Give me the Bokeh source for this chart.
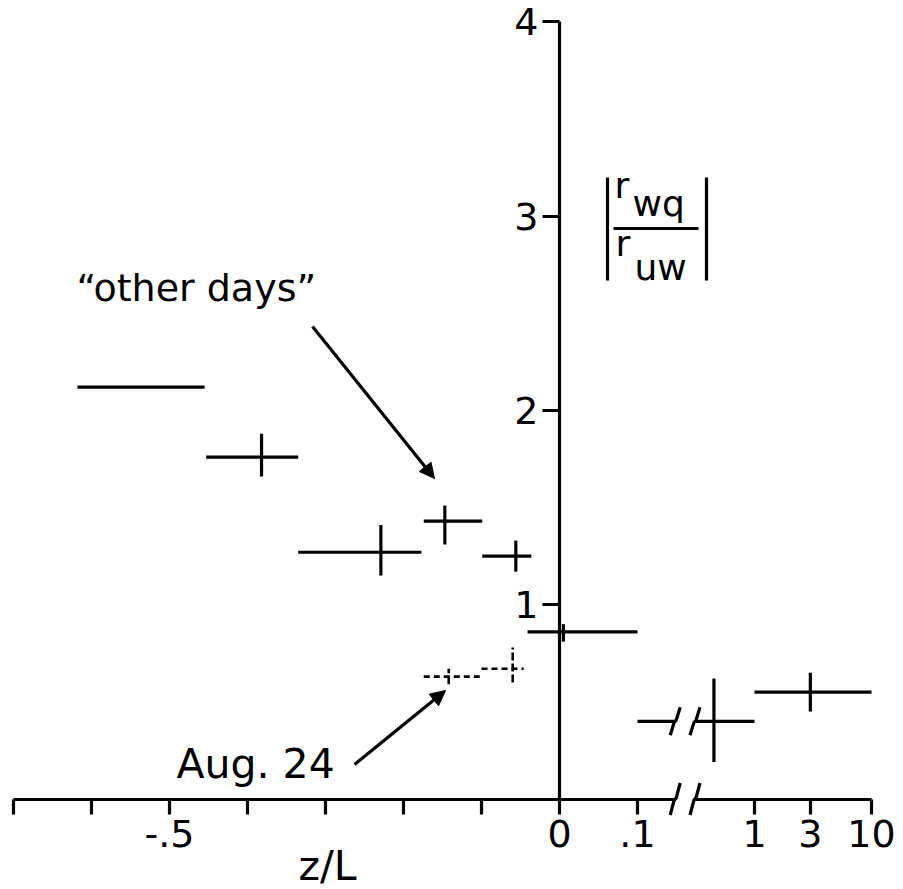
import numpy as np
from bokeh.plotting import figure
from bokeh.models import (Range1d, LinearAxis, FixedTicker, CustomJSTickFormatter,
                          Label, Arrow, NormalHead)
from bokeh.embed import file_html
from bokeh.resources import INLINE

# ---------------- data ----------------
# "other days": bin limits in z/L, plotted centre, value and vertical extent
od_z_lo = [-0.453, -0.335, -0.174, -0.099, -0.041, 0.1, 1.0]
od_z_hi = [-0.335, -0.177, -0.099, -0.036, 0.100, 1.0, 10.0]
od_z_c = [-0.382, -0.229, -0.147, -0.056, 0.005, 0.45, 3.0]
od_val = [1.76, 1.27, 1.43, 1.25, 0.86, 0.40, 0.55]
od_lo = [1.66, 1.15, 1.31, 1.17, 0.81, 0.19, 0.45]
od_hi = [1.88, 1.41, 1.51, 1.33, 0.90, 0.62, 0.65]

# "other days" bin drawn without a vertical extent
od2_z_lo = [-0.618]
od2_z_hi = [-0.455]
od2_val = [2.12]

# Aug. 24 (dashed crosses)
aug_z_lo = [-0.174, -0.100]
aug_z_hi = [-0.099, -0.046]
aug_z_c = [-0.142, -0.060]
aug_val = [0.63, 0.67]
aug_lo = [0.59, 0.60]
aug_hi = [0.67, 0.78]

# axis ticks
lin_ticks = [-0.7, -0.6, -0.5, -0.4, -0.3, -0.2, -0.1, 0.0, 0.1]
lin_labels = ["", "", "-.5", "", "", "", "", "0", ".1"]
log_ticks = [1.0, 3.0, 10.0]
log_labels = ["1", "3", "10"]
y_ticks = [1, 2, 3, 4]
y_labels = ["1", "2", "3", "4"]

# broken axis: linear up to 0.1, logarithmic beyond
Z_BREAK = 0.1
DECADE = 0.15          # axis units per decade in the log part
BREAK_GAP_Z = (0.21, 0.31)   # where the break marks sit


def xt(z):
    z = np.asarray(z, dtype=float)
    return np.where(z <= Z_BREAK, z,
                    Z_BREAK + DECADE * np.log10(np.maximum(z, 1e-12) / Z_BREAK))


# ---------------- layout constants ----------------
W, H = 903, 889
X0_PX, XS = 559.0, 780.0      # pixel of z/L = 0, pixels per unit
Y0_PX, YS = 798.5, 194.3      # pixel of value 0, pixels per unit
TXT_DY = 13                   # label baseline correction (px)


def px2x(px):
    return (px - X0_PX) / XS


def px2y(py):
    return (Y0_PX - py) / YS


def ty(py):
    return px2y(py - TXT_DY)


FONT = "DejaVu Sans"
LW = 3.2

p = figure(width=W, height=H,
           x_range=Range1d(-X0_PX / XS, (W - X0_PX) / XS),
           y_range=Range1d(-(H - Y0_PX) / YS, Y0_PX / YS),
           x_axis_type=None, y_axis_type=None,
           toolbar_location=None, output_backend="svg", min_border=0)
p.outline_line_color = None
p.background_fill_color = "white"
p.border_fill_color = "white"

gap_lo, gap_hi = [float(v) for v in xt(BREAK_GAP_Z)]

LOOKUP = ("for (let i = 0; i < tv.length; i++) { if (Math.abs(tv[i] - tick) < 1e-6) "
          "return labels[i]; } return '';")

# ---------------- axes ----------------
ax_lin = LinearAxis(
    fixed_location=0, bounds=(-0.7005, gap_lo),
    ticker=FixedTicker(ticks=lin_ticks),
    formatter=CustomJSTickFormatter(args=dict(tv=lin_ticks, labels=lin_labels), code=LOOKUP))
log_pos = [float(v) for v in xt(log_ticks)]
ax_log = LinearAxis(
    fixed_location=0, bounds=(gap_hi, log_pos[-1] + 0.0005),
    ticker=FixedTicker(ticks=log_pos),
    formatter=CustomJSTickFormatter(args=dict(tv=log_pos, labels=log_labels), code=LOOKUP))
ax_y = LinearAxis(
    fixed_location=0, bounds=(0, 4),
    ticker=FixedTicker(ticks=y_ticks),
    formatter=CustomJSTickFormatter(args=dict(tv=y_ticks, labels=y_labels), code=LOOKUP))

for ax in (ax_lin, ax_log, ax_y):
    ax.axis_line_width = LW
    ax.axis_line_color = "black"
    ax.major_tick_line_width = LW
    ax.major_tick_line_color = "black"
    ax.major_tick_in = 0
    ax.minor_tick_line_color = None
    ax.major_label_text_font = FONT
    ax.major_label_text_font_size = "38px"
    ax.major_label_text_color = "black"
ax_lin.major_tick_out = 15
ax_log.major_tick_out = 15
ax_lin.major_label_standoff = 6
ax_log.major_label_standoff = 6
ax_y.major_tick_out = 17
ax_y.major_label_standoff = 4

p.add_layout(ax_lin, "below")
p.add_layout(ax_log, "below")
p.add_layout(ax_y, "left")

# ---------------- "other days" crosses ----------------
hx0, hx1, hy = [], [], []
for lo, hi, v in zip(xt(od_z_lo), xt(od_z_hi), od_val):
    if lo < gap_lo and hi > gap_hi:
        hx0 += [lo, gap_hi]
        hx1 += [gap_lo, hi]
        hy += [v, v]
    else:
        hx0.append(lo)
        hx1.append(hi)
        hy.append(v)
for lo, hi, v in zip(xt(od2_z_lo), xt(od2_z_hi), od2_val):
    hx0.append(lo)
    hx1.append(hi)
    hy.append(v)

p.segment(x0=hx0, x1=hx1, y0=hy, y1=hy, line_width=LW, line_color="black")
p.segment(x0=xt(od_z_c), x1=xt(od_z_c), y0=od_lo, y1=od_hi,
          line_width=LW, line_color="black")

# ---------------- Aug. 24 crosses (dashed) ----------------
p.segment(x0=xt(aug_z_lo), x1=xt(aug_z_hi), y0=aug_val, y1=aug_val,
          line_width=2.6, line_color="black", line_dash="6 4")
p.segment(x0=xt(aug_z_c), x1=xt(aug_z_c), y0=aug_lo, y1=aug_hi,
          line_width=2.6, line_color="black", line_dash="8 3")


# ---------------- break marks ----------------
def zig(xc, yc, half_px):
    dx, dy = 1.0 / XS, 1.0 / YS
    xs = [xc - 5 * dx, xc - 1 * dx, xc + 1 * dx, xc + 5 * dx]
    ys = [yc - half_px * dy, yc - 1 * dy, yc + 1 * dy, yc + half_px * dy]
    return xs, ys


zx, zy = [], []
for gx in (gap_lo, gap_hi):
    a, b = zig(gx, 0.0, 16)
    zx.append(a); zy.append(b)
    for lo, hi, v in zip(xt(od_z_lo), xt(od_z_hi), od_val):
        if lo < gap_lo and hi > gap_hi:
            a, b = zig(gx, v, 14)
            zx.append(a); zy.append(b)
p.multi_line(xs=zx, ys=zy, line_width=LW, line_color="black")

# ---------------- y label |r_wq / r_uw| ----------------
p.multi_line(xs=[[px2x(607), px2x(607)], [px2x(706), px2x(706)], [px2x(613), px2x(698)]],
             ys=[[px2y(177), px2y(280)], [px2y(177), px2y(280)], [px2y(228), px2y(228)]],
             line_width=LW, line_color="black")
for txt, x, y in [("r", 614, 198), ("wq", 632, 216), ("r", 615, 256), ("uw", 634, 280)]:
    p.add_layout(Label(x=px2x(x), y=ty(y), text=txt, text_font=FONT,
                       text_font_size="36px", text_baseline="alphabetic",
                       text_align="left", text_color="black"))

# ---------------- annotations ----------------
p.add_layout(Label(x=px2x(76), y=ty(300), text="\u201cother days\u201d", text_font=FONT,
                   text_font_size="38px", text_baseline="alphabetic", text_color="black"))
p.add_layout(Label(x=px2x(176), y=ty(776), text="Aug. 24", text_font=FONT,
                   text_font_size="41px", text_baseline="alphabetic", text_color="black"))
p.add_layout(Label(x=px2x(298), y=ty(878), text="z/L", text_font=FONT,
                   text_font_size="41px", text_baseline="alphabetic", text_color="black"))

p.add_layout(Arrow(end=NormalHead(size=15, line_color="black", fill_color="black"),
                   x_start=px2x(312), y_start=px2y(326), x_end=px2x(434), y_end=px2y(478),
                   line_width=LW, line_color="black"))
p.add_layout(Arrow(end=NormalHead(size=15, line_color="black", fill_color="black"),
                   x_start=px2x(354), y_start=px2y(764), x_end=px2x(445), y_end=px2y(690),
                   line_width=LW, line_color="black"))

open("out.html", "w").write(file_html(p, INLINE))
